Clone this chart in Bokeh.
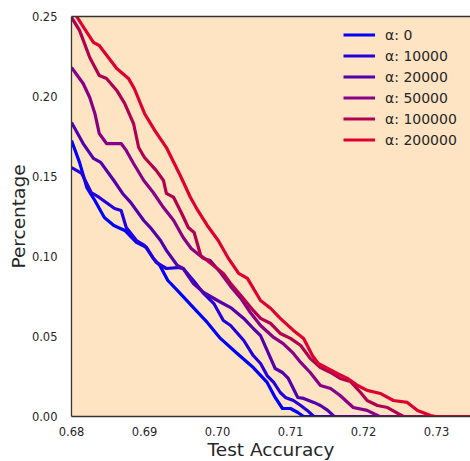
from bokeh.plotting import figure
from bokeh.models import Range1d, FixedTicker, LinearAxis, Legend, LegendItem
from bokeh.embed import file_html
from bokeh.resources import INLINE

# ---- data ----
labels = ["α: 0", "α: 10000", "α: 20000", "α: 50000", "α: 100000", "α: 200000"]
colors = ["#0000FF", "#2200DD", "#5500AA", "#880088", "#B00050", "#DD0030"]

acc_a0 = [0.6800, 0.6811, 0.6821, 0.6832, 0.6845, 0.6858, 0.6873, 0.6889, 0.6903, 0.6912, 0.6921,
          0.6932, 0.6945, 0.6967, 0.6986, 0.7004, 0.7027, 0.7049, 0.7068, 0.7079, 0.7089, 0.7100,
          0.7110, 0.7118, 0.7350]
pct_a0 = [0.1725, 0.1588, 0.1431, 0.1350, 0.1244, 0.1194, 0.1163, 0.1088, 0.1056, 0.0988, 0.0944,
          0.0850, 0.0788, 0.0681, 0.0588, 0.0488, 0.0394, 0.0306, 0.0213, 0.0119, 0.0050, 0.0050,
          0.0025, 0.0, 0.0]

acc_a1 = [0.6800, 0.6814, 0.6827, 0.6838, 0.6859, 0.6868, 0.6875, 0.6889, 0.6900, 0.6916, 0.6930,
          0.6945, 0.6953, 0.6967, 0.6981, 0.6995, 0.7008, 0.7018, 0.7036, 0.7049, 0.7059, 0.7068,
          0.7077, 0.7086, 0.7093, 0.7104, 0.7114, 0.7123, 0.7132, 0.7350]
pct_a1 = [0.1556, 0.1519, 0.1400, 0.1369, 0.1300, 0.1288, 0.1181, 0.1100, 0.1069, 0.0963, 0.0925,
          0.0931, 0.0925, 0.0850, 0.0769, 0.0706, 0.0600, 0.0569, 0.0475, 0.0381, 0.0331, 0.0256,
          0.0213, 0.0150, 0.0119, 0.0100, 0.0069, 0.0038, 0.0, 0.0]

acc_a2 = [0.6800, 0.6816, 0.6830, 0.6840, 0.6858, 0.6870, 0.6881, 0.6899, 0.6908, 0.6922, 0.6930,
          0.6945, 0.6953, 0.6967, 0.6981, 0.7000, 0.7018, 0.7036, 0.7049, 0.7059, 0.7068, 0.7079,
          0.7089, 0.7097, 0.7110, 0.7118, 0.7132, 0.7141, 0.7151, 0.7160, 0.7350]
pct_a2 = [0.1838, 0.1706, 0.1613, 0.1588, 0.1475, 0.1394, 0.1338, 0.1225, 0.1181, 0.1100, 0.1038,
          0.0944, 0.0925, 0.0831, 0.0775, 0.0725, 0.0681, 0.0613, 0.0550, 0.0506, 0.0413, 0.0300,
          0.0275, 0.0238, 0.0119, 0.0113, 0.0088, 0.0069, 0.0038, 0.0, 0.0]

acc_a3 = [0.6800, 0.6816, 0.6825, 0.6832, 0.6838, 0.6848, 0.6868, 0.6875, 0.6885, 0.6899, 0.6912,
          0.6926, 0.6940, 0.6953, 0.6964, 0.6981, 0.6990, 0.7004, 0.7018, 0.7032, 0.7045, 0.7059,
          0.7077, 0.7090, 0.7104, 0.7114, 0.7127, 0.7141, 0.7155, 0.7168, 0.7186, 0.7205, 0.7222,
          0.7350]
pct_a3 = [0.2181, 0.2081, 0.1994, 0.1894, 0.1769, 0.1706, 0.1706, 0.1663, 0.1581, 0.1475, 0.1400,
          0.1306, 0.1225, 0.1119, 0.1050, 0.0988, 0.0975, 0.0900, 0.0813, 0.0738, 0.0650, 0.0569,
          0.0494, 0.0456, 0.0394, 0.0338, 0.0275, 0.0194, 0.0175, 0.0131, 0.0056, 0.0038, 0.0,
          0.0]

acc_a4 = [0.6800, 0.6811, 0.6825, 0.6838, 0.6848, 0.6862, 0.6873, 0.6885, 0.6892, 0.6900, 0.6916,
          0.6926, 0.6930, 0.6940, 0.6951, 0.6960, 0.6968, 0.6977, 0.6986, 0.7008, 0.7018, 0.7032,
          0.7049, 0.7059, 0.7073, 0.7086, 0.7100, 0.7114, 0.7127, 0.7141, 0.7155, 0.7168, 0.7182,
          0.7196, 0.7205, 0.7219, 0.7233, 0.7247, 0.7255, 0.7350]
pct_a4 = [0.2494, 0.2413, 0.2244, 0.2131, 0.2113, 0.2038, 0.1956, 0.1831, 0.1681, 0.1619, 0.1538,
          0.1475, 0.1394, 0.1369, 0.1269, 0.1181, 0.1150, 0.1006, 0.0975, 0.0894, 0.0831, 0.0756,
          0.0663, 0.0613, 0.0581, 0.0519, 0.0488, 0.0444, 0.0363, 0.0306, 0.0275, 0.0238, 0.0219,
          0.0150, 0.0100, 0.0069, 0.0056, 0.0019, 0.0, 0.0]

acc_a5 = [0.6800, 0.6807, 0.6830, 0.6838, 0.6862, 0.6878, 0.6886, 0.6900, 0.6914, 0.6930, 0.6949,
          0.6963, 0.6973, 0.6986, 0.7001, 0.7015, 0.7029, 0.7041, 0.7059, 0.7073, 0.7086, 0.7104,
          0.7118, 0.7130, 0.7138, 0.7151, 0.7164, 0.7178, 0.7192, 0.7205, 0.7223, 0.7241, 0.7260,
          0.7274, 0.7292, 0.7299, 0.7350]
pct_a5 = [0.2560, 0.2500, 0.2338, 0.2319, 0.2175, 0.2113, 0.2050, 0.1894, 0.1788, 0.1681, 0.1506,
          0.1369, 0.1288, 0.1194, 0.1100, 0.0988, 0.0894, 0.0863, 0.0725, 0.0675, 0.0613, 0.0538,
          0.0488, 0.0381, 0.0331, 0.0300, 0.0269, 0.0238, 0.0194, 0.0163, 0.0144, 0.0100, 0.0088,
          0.0038, 0.0006, 0.0, 0.0]

x_ticks = [0.68, 0.69, 0.70, 0.71, 0.72, 0.73]
x_tick_labels = ["0.68", "0.69", "0.70", "0.71", "0.72", "0.73"]
y_ticks = [0.0, 0.05, 0.10, 0.15, 0.20, 0.25]
y_tick_labels = ["0.00", "0.05", "0.10", "0.15", "0.20", "0.25"]

series_x = [acc_a0, acc_a1, acc_a2, acc_a3, acc_a4, acc_a5]
series_y = [pct_a0, pct_a1, pct_a2, pct_a3, pct_a4, pct_a5]

FONT = "DejaVu Sans"
TXT = "#262626"
AXC = "#333333"

p = figure(frame_width=399, frame_height=400, output_backend="svg", toolbar_location=None,
           x_range=Range1d(0.68, 0.73466), y_range=Range1d(0.0, 0.25),
           min_border_left=71, min_border_top=16, min_border_right=0, min_border_bottom=10,
           background_fill_color="#FFE4C4", outline_line_color=None,
           border_fill_color="white")
p.grid.visible = False

for ax, ticks, tl, lab in [(p.xaxis[0], x_ticks, x_tick_labels, "Test Accuracy"),
                           (p.yaxis[0], y_ticks, y_tick_labels, "Percentage")]:
    ax.ticker = FixedTicker(ticks=ticks)
    ax.major_label_overrides = {t: s for t, s in zip(ticks, tl)}
    ax.axis_line_color = AXC
    ax.axis_line_width = 1.3
    ax.major_tick_line_color = None
    ax.minor_tick_line_color = None
    ax.major_label_text_font = FONT
    ax.major_label_text_font_size = "11.5px"
    ax.major_label_text_color = TXT
    ax.axis_label = lab
    ax.axis_label_text_font = FONT
    ax.axis_label_text_font_size = "18.5px"
    ax.axis_label_text_font_style = "normal"
    ax.axis_label_text_color = TXT

p.xaxis[0].major_label_standoff = 4
p.xaxis[0].axis_label_standoff = 0
p.yaxis[0].major_label_standoff = 8
p.yaxis[0].axis_label_standoff = 0

top_axis = LinearAxis(ticker=FixedTicker(ticks=[]), axis_line_color=AXC, axis_line_width=1.3,
                      major_tick_line_color=None, minor_tick_line_color=None,
                      major_label_text_font_size="0px", major_label_standoff=0)
p.add_layout(top_axis, "above")

items = []
for xs, ys, c, lab in zip(series_x, series_y, colors, labels):
    r = p.line(xs, ys, line_color=c, line_width=3.2, line_join="round")
    items.append(LegendItem(label=lab, renderers=[r]))

legend = Legend(items=items, location=(272, 266), padding=0, margin=0,
                glyph_width=32, glyph_height=21, label_height=21, spacing=0,
                label_standoff=10, label_text_font=FONT, label_text_font_size="14px",
                label_text_color=TXT, background_fill_alpha=0, border_line_color=None)
p.add_layout(legend)

open("out.html", "w").write(file_html(p, INLINE))
